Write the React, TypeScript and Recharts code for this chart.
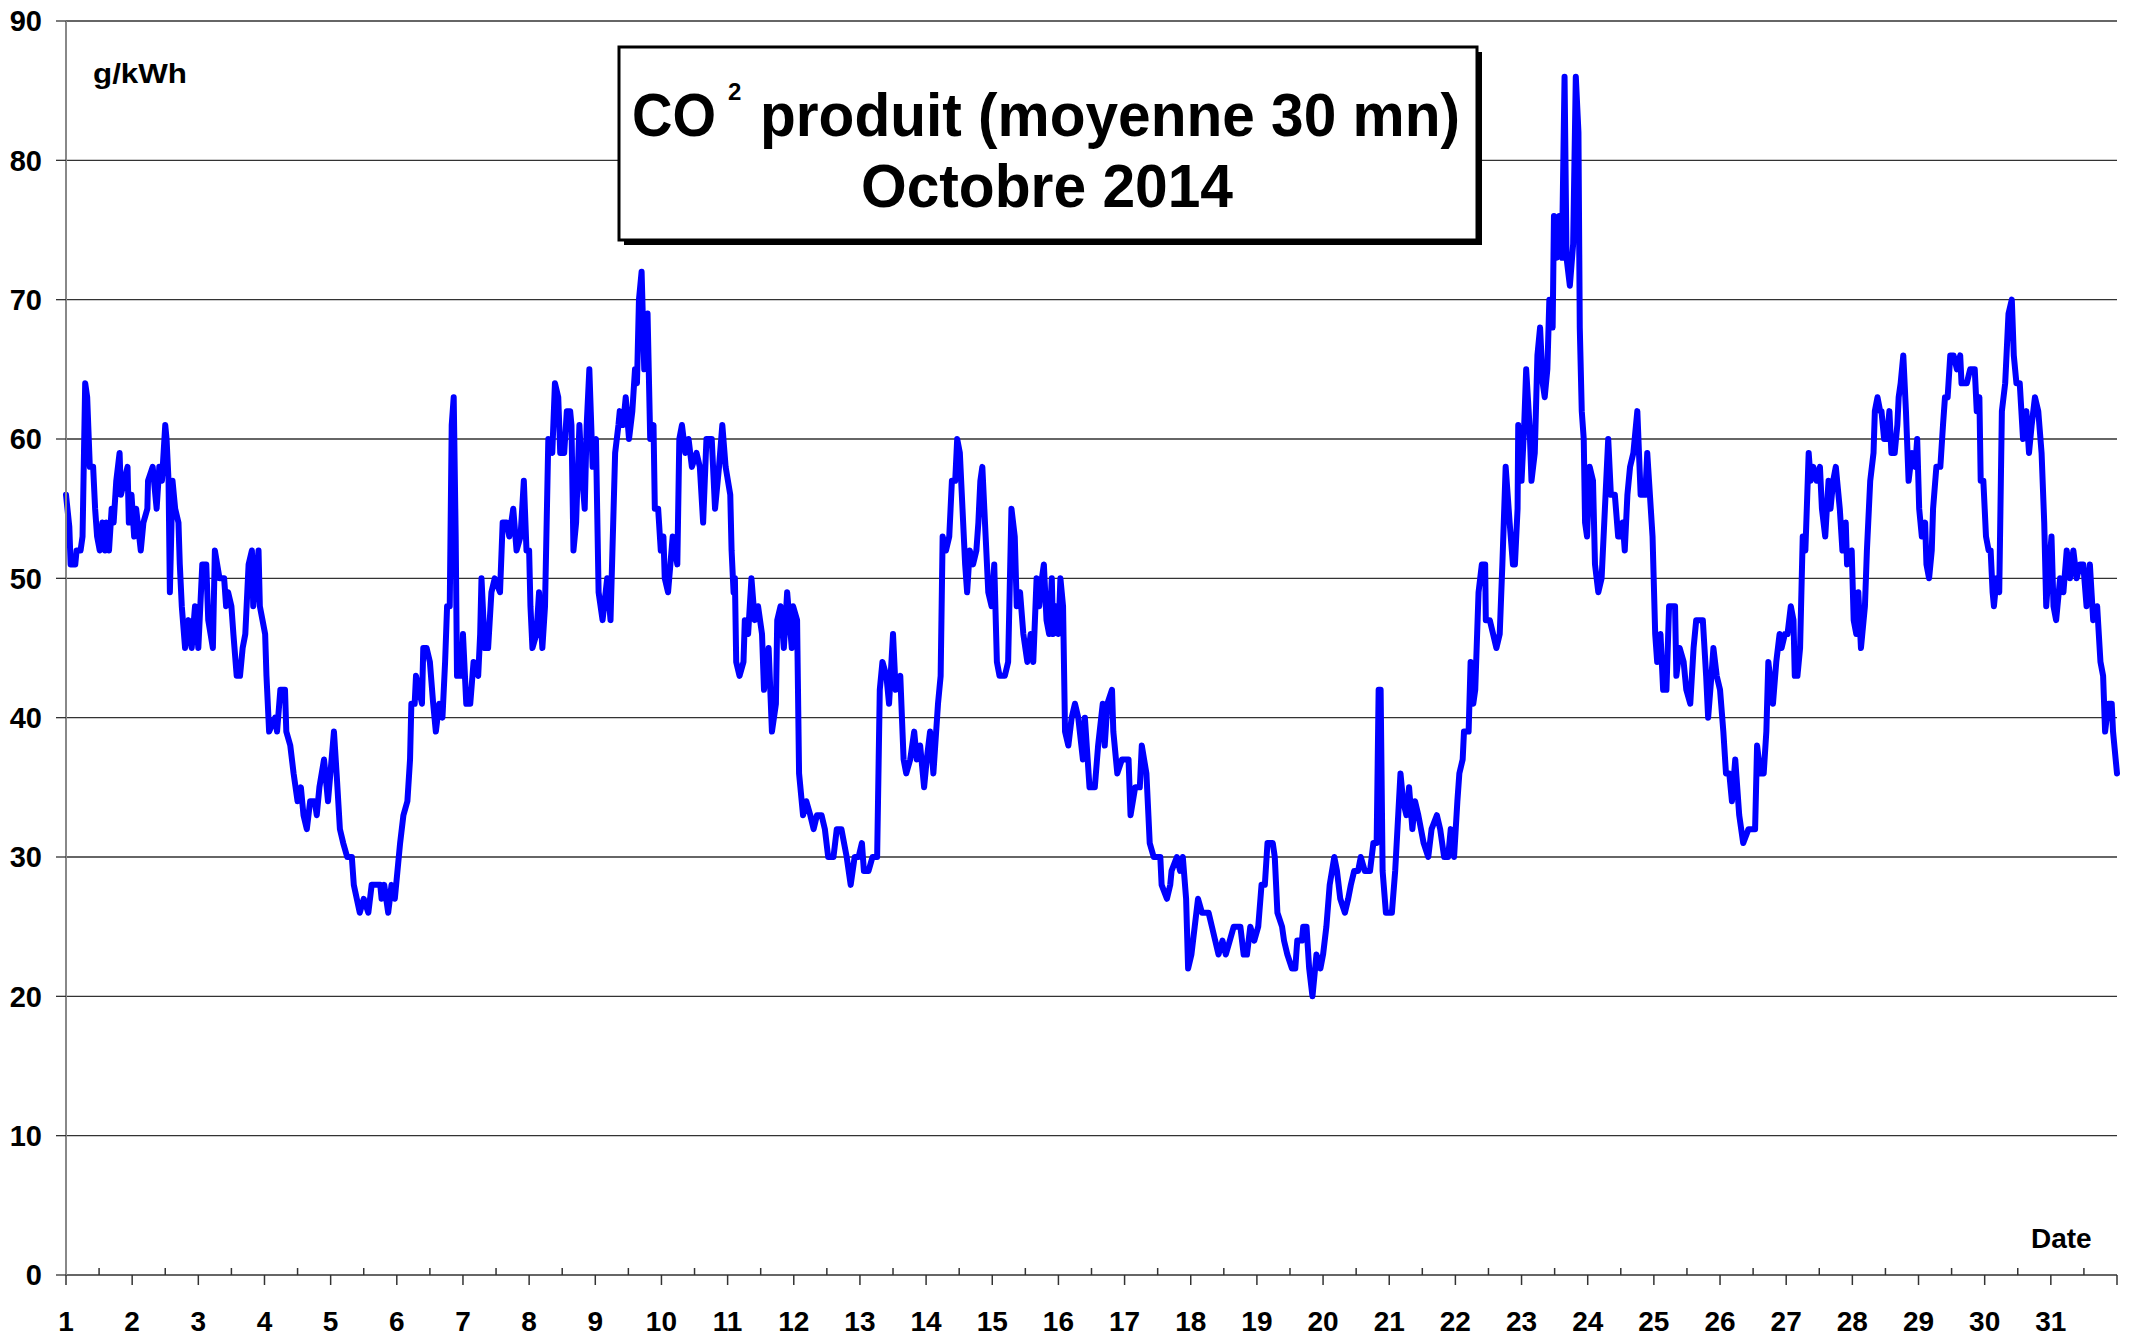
import { LineChart, Line, XAxis, YAxis, CartesianGrid } from "recharts"

// [day of month (fractional), g/kWh], segment by segment
const days1to6: [number, number][] = [
  [1.0, 56], [1.05, 53.7], [1.07, 51], [1.14, 51], [1.16, 52], [1.22, 52], [1.25, 53], [1.29, 64], [1.32, 63],
  [1.36, 58], [1.41, 58], [1.44, 55], [1.47, 53], [1.51, 52], [1.55, 54], [1.59, 52], [1.61, 54], [1.65, 52],
  [1.69, 55], [1.72, 54], [1.76, 57], [1.81, 59], [1.83, 56], [1.88, 57], [1.93, 58], [1.95, 54], [1.99, 56],
  [2.03, 53], [2.06, 55], [2.13, 52], [2.17, 54], [2.23, 55], [2.24, 57], [2.31, 58], [2.37, 55], [2.41, 58],
  [2.45, 57], [2.5, 61], [2.52, 60], [2.55, 57], [2.57, 49], [2.61, 57], [2.65, 55], [2.7, 54], [2.72, 51],
  [2.75, 48], [2.8, 45], [2.85, 47], [2.9, 45], [2.95, 48], [3.0, 45], [3.06, 51], [3.12, 51], [3.15, 47],
  [3.22, 45], [3.25, 52], [3.32, 50], [3.39, 50], [3.42, 48], [3.45, 49], [3.5, 48], [3.53, 46], [3.58, 43],
  [3.63, 43], [3.67, 45], [3.71, 46], [3.76, 51], [3.81, 52], [3.83, 48], [3.91, 52], [3.93, 48], [3.97, 47],
  [4.01, 46], [4.03, 43], [4.07, 39], [4.16, 40], [4.19, 39], [4.24, 42], [4.31, 42], [4.33, 39], [4.39, 38],
  [4.44, 36], [4.5, 34], [4.55, 35], [4.59, 33], [4.64, 32], [4.69, 34], [4.76, 34], [4.79, 33], [4.83, 35],
  [4.9, 37], [4.96, 34], [5.05, 39], [5.09, 36], [5.14, 32], [5.19, 31], [5.25, 30], [5.32, 30], [5.35, 28],
  [5.44, 26], [5.5, 27], [5.57, 26], [5.62, 28], [5.75, 28], [5.77, 27], [5.81, 28], [5.87, 26], [5.92, 28],
  [5.97, 27], [6.05, 31],
]

const days6to11: [number, number][] = [
  [6.1, 33], [6.16, 34], [6.2, 37], [6.22, 41], [6.27, 41], [6.29, 43], [6.38, 41], [6.4, 45], [6.45, 45],
  [6.5, 44], [6.55, 41], [6.59, 39], [6.64, 41], [6.69, 40], [6.73, 44], [6.76, 48], [6.8, 48], [6.83, 61],
  [6.86, 63], [6.89, 53], [6.91, 43], [6.98, 43], [7.0, 46], [7.05, 41], [7.11, 41], [7.16, 44], [7.23, 43],
  [7.26, 46], [7.28, 50], [7.33, 45], [7.38, 45], [7.43, 49], [7.48, 50], [7.56, 49], [7.6, 54], [7.66, 54],
  [7.7, 53], [7.76, 55], [7.81, 52], [7.87, 53], [7.92, 57], [7.96, 52], [8.0, 52], [8.02, 48], [8.05, 45],
  [8.11, 46], [8.15, 49], [8.2, 45], [8.24, 48], [8.29, 60], [8.35, 59], [8.39, 64], [8.44, 63], [8.47, 59],
  [8.53, 59], [8.57, 62], [8.62, 62], [8.64, 61], [8.67, 52], [8.71, 54], [8.76, 61], [8.79, 58], [8.84, 55],
  [8.87, 61], [8.91, 65], [8.96, 58], [9.01, 60], [9.05, 49], [9.11, 47], [9.18, 50], [9.23, 47], [9.3, 59],
  [9.35, 61], [9.37, 62], [9.42, 61], [9.46, 63], [9.51, 60], [9.56, 62], [9.6, 65], [9.63, 64], [9.66, 70],
  [9.7, 72], [9.74, 65], [9.79, 69], [9.83, 60], [9.88, 61], [9.9, 55], [9.95, 55], [9.99, 52], [10.03, 53],
  [10.05, 50], [10.1, 49], [10.17, 53], [10.24, 51], [10.27, 60], [10.31, 61], [10.36, 59], [10.41, 60],
  [10.46, 58], [10.53, 59], [10.58, 58], [10.63, 54], [10.68, 60], [10.76, 60], [10.81, 55], [10.87, 58],
  [10.92, 61], [10.97, 58], [11.04, 56], [11.06, 52], [11.09, 49], [11.11, 50], [11.13, 44], [11.18, 43],
]

const days11to16: [number, number][] = [
  [11.24, 44], [11.26, 47], [11.31, 46], [11.36, 50], [11.41, 47], [11.46, 48], [11.52, 46], [11.55, 42],
  [11.62, 45], [11.67, 39], [11.73, 41], [11.75, 47], [11.8, 48], [11.85, 45], [11.9, 49], [11.97, 45],
  [11.99, 48], [12.05, 47], [12.08, 36], [12.14, 33], [12.19, 34], [12.25, 33], [12.3, 32], [12.35, 33],
  [12.42, 33], [12.47, 32], [12.52, 30], [12.6, 30], [12.65, 32], [12.72, 32], [12.8, 30], [12.86, 28],
  [12.92, 30], [12.98, 30], [13.03, 31], [13.06, 29], [13.13, 29], [13.19, 30], [13.26, 30], [13.3, 42],
  [13.34, 44], [13.4, 43], [13.44, 41], [13.5, 46], [13.54, 42], [13.61, 43], [13.66, 37], [13.7, 36],
  [13.76, 37], [13.82, 39], [13.86, 37], [13.91, 38], [13.97, 35], [14.01, 37], [14.06, 39], [14.11, 36],
  [14.18, 41], [14.22, 43], [14.25, 53], [14.3, 52], [14.35, 53], [14.39, 57], [14.44, 57], [14.47, 60],
  [14.51, 59], [14.55, 55], [14.59, 51], [14.62, 49], [14.66, 52], [14.71, 51], [14.76, 52], [14.79, 54],
  [14.82, 57], [14.85, 58], [14.9, 53], [14.94, 49], [14.99, 48], [15.03, 51], [15.07, 44], [15.11, 43],
  [15.19, 43], [15.24, 44], [15.29, 55], [15.34, 53], [15.37, 48], [15.42, 49], [15.47, 46], [15.53, 44],
  [15.58, 46], [15.62, 44], [15.67, 50], [15.71, 48], [15.75, 50], [15.78, 51], [15.82, 47], [15.86, 46],
  [15.9, 50], [15.92, 46], [15.96, 48], [16.0, 46], [16.03, 50], [16.07, 48], [16.1, 39], [16.15, 38],
  [16.2, 40], [16.25, 41], [16.3, 40],
]

const days16to21: [number, number][] = [
  [16.37, 37], [16.4, 40], [16.47, 35], [16.55, 35], [16.6, 38], [16.67, 41], [16.7, 38], [16.74, 41],
  [16.81, 42], [16.83, 39], [16.89, 36], [16.96, 37], [17.06, 37], [17.09, 33], [17.16, 35], [17.23, 35],
  [17.26, 38], [17.33, 36], [17.36, 33], [17.38, 31], [17.44, 30], [17.54, 30], [17.56, 28], [17.64, 27],
  [17.69, 28], [17.71, 29], [17.79, 30], [17.84, 29], [17.88, 30], [17.93, 27], [17.96, 22], [18.01, 23],
  [18.06, 25], [18.11, 27], [18.17, 26], [18.27, 26], [18.32, 25], [18.37, 24], [18.42, 23], [18.48, 24],
  [18.53, 23], [18.59, 24], [18.65, 25], [18.75, 25], [18.8, 23], [18.85, 23], [18.9, 25], [18.96, 24],
  [19.02, 25], [19.07, 28], [19.12, 28], [19.16, 31], [19.24, 31], [19.27, 30], [19.31, 26], [19.38, 25],
  [19.41, 24], [19.46, 23], [19.53, 22], [19.58, 22], [19.61, 24], [19.68, 24], [19.7, 25], [19.75, 25],
  [19.79, 22], [19.84, 20], [19.9, 23], [19.96, 22], [20.0, 23], [20.05, 25], [20.1, 28], [20.17, 30],
  [20.21, 29], [20.26, 27], [20.33, 26], [20.38, 27], [20.42, 28], [20.47, 29], [20.53, 29], [20.57, 30],
  [20.63, 29], [20.71, 29], [20.76, 31], [20.81, 31], [20.84, 42], [20.87, 42], [20.9, 29], [20.95, 26],
  [21.04, 26], [21.09, 29], [21.17, 36], [21.21, 34], [21.26, 33], [21.3, 35], [21.35, 32], [21.39, 34],
  [21.44, 33],
]

const days21to26: [number, number][] = [
  [21.52, 31], [21.59, 30], [21.64, 32], [21.72, 33], [21.77, 32], [21.83, 30], [21.89, 30], [21.93, 32],
  [21.98, 30], [22.03, 34], [22.06, 36], [22.11, 37], [22.13, 39], [22.2, 39], [22.23, 44], [22.27, 41],
  [22.3, 42], [22.35, 49], [22.4, 51], [22.45, 51], [22.46, 47], [22.52, 47], [22.57, 46], [22.62, 45],
  [22.67, 46], [22.71, 51], [22.76, 58], [22.82, 54], [22.87, 51], [22.9, 51], [22.94, 55], [22.95, 61],
  [23.0, 57], [23.04, 61], [23.07, 65], [23.12, 61], [23.15, 57], [23.2, 59], [23.24, 66], [23.28, 68],
  [23.32, 64], [23.35, 63], [23.39, 65], [23.42, 70], [23.47, 68], [23.49, 76], [23.53, 73], [23.57, 76],
  [23.61, 73], [23.65, 86], [23.68, 73], [23.73, 71], [23.78, 74], [23.82, 86], [23.86, 82], [23.88, 68],
  [23.91, 62], [23.94, 60], [23.96, 54], [23.99, 53], [24.03, 58], [24.08, 57], [24.11, 51], [24.16, 49],
  [24.21, 50], [24.25, 54], [24.31, 60], [24.35, 56], [24.41, 56], [24.46, 53], [24.51, 53], [24.53, 54],
  [24.56, 52], [24.6, 56], [24.64, 58], [24.69, 59], [24.75, 62], [24.8, 56], [24.87, 56], [24.9, 59],
  [24.94, 56], [24.98, 53], [25.02, 46], [25.05, 44], [25.1, 46], [25.14, 42], [25.19, 42], [25.23, 48],
  [25.32, 48], [25.34, 43], [25.39, 45], [25.45, 44], [25.49, 42], [25.55, 41], [25.6, 45], [25.64, 47],
  [25.74, 47], [25.79, 43], [25.82, 40], [25.87, 43], [25.9, 45], [25.95, 43], [26.0, 42], [26.05, 39],
  [26.09, 36], [26.14, 36], [26.18, 34], [26.23, 37], [26.29, 33], [26.35, 31], [26.43, 32], [26.53, 32],
  [26.56, 38],
]

const days26to31: [number, number][] = [
  [26.61, 36], [26.66, 36], [26.7, 39], [26.73, 44], [26.8, 41], [26.85, 44], [26.9, 46], [26.93, 45],
  [26.98, 46], [27.02, 46], [27.07, 48], [27.11, 47], [27.13, 43], [27.17, 43], [27.21, 45], [27.25, 53],
  [27.29, 52], [27.34, 59], [27.37, 57], [27.41, 58], [27.46, 57], [27.51, 58], [27.54, 55], [27.59, 53],
  [27.64, 57], [27.67, 55], [27.71, 57], [27.75, 58], [27.81, 55], [27.85, 52], [27.9, 54], [27.92, 51],
  [27.99, 52], [28.02, 47], [28.06, 46], [28.09, 49], [28.13, 45], [28.19, 48], [28.22, 52], [28.27, 57],
  [28.32, 59], [28.34, 62], [28.38, 63], [28.42, 62], [28.44, 62], [28.48, 60], [28.52, 60], [28.56, 62],
  [28.59, 59], [28.64, 59], [28.68, 61], [28.7, 63], [28.73, 64], [28.77, 66], [28.81, 62], [28.85, 57],
  [28.9, 59], [28.95, 58], [28.98, 60], [29.01, 55], [29.05, 53], [29.1, 54], [29.12, 51], [29.16, 50],
  [29.2, 52], [29.22, 55], [29.27, 58], [29.33, 58], [29.37, 61], [29.4, 63], [29.44, 63], [29.48, 66],
  [29.53, 66], [29.58, 65], [29.63, 66], [29.65, 64], [29.73, 64], [29.78, 65], [29.85, 65], [29.88, 62],
  [29.92, 63], [29.94, 57], [29.98, 57], [30.02, 53], [30.06, 52], [30.09, 52], [30.12, 49], [30.14, 48],
  [30.18, 50], [30.22, 49], [30.26, 62], [30.31, 64], [30.36, 69], [30.41, 70], [30.44, 66], [30.48, 64],
  [30.53, 64], [30.58, 60], [30.63, 62], [30.67, 59], [30.71, 61], [30.76, 63], [30.81, 62], [30.86, 59],
  [30.9, 54], [30.93, 48], [30.96, 50], [31.01, 53], [31.04, 48], [31.08, 47], [31.14, 50], [31.19, 49],
  [31.24, 52], [31.29, 50], [31.34, 52], [31.39, 50], [31.44, 51], [31.49, 51], [31.54, 48], [31.59, 51],
  [31.64, 47], [31.7, 48], [31.75, 44], [31.79, 43], [31.82, 39], [31.87, 41], [31.92, 41], [31.94, 39],
  [32.0, 36],
]

const yTicks = [0, 10, 20, 30, 40, 50, 60, 70, 80, 90]
// whole days get a label and a downward tick, half days a small upward tick
const dayTicks = Array.from({ length: 63 }, (_, i) => 1 + i / 2)

const data = [...days1to6, ...days6to11, ...days11to16, ...days16to21, ...days21to26, ...days26to31].map(
  ([d, v]) => ({ d, v })
)

function DayTick(props: any) {
  const { x, y, payload } = props
  const d = payload.value as number
  const major = Number.isInteger(d)
  return (
    <g>
      <line x1={x} x2={x} y1={y} y2={major ? y + 10 : y - 7} stroke="#333" strokeWidth={1.5} />
      {major && d < 32 && (
        <text x={x} y={y + 56} textAnchor="middle" fontSize={28} fontWeight="bold" fill="#000">
          {d}
        </text>
      )}
    </g>
  )
}

export default function App() {
  return (
    <div
      style={{
        position: "absolute",
        left: 0,
        top: 0,
        width: 2134,
        height: 1337,
        background: "#fff",
        fontFamily: "'Liberation Sans', Arial, sans-serif",
      }}
    >
      <LineChart width={2134} height={1337} data={data} margin={{ top: 21, right: 17, left: 0, bottom: 0 }}>
        <CartesianGrid vertical={false} stroke="#333" strokeWidth={1.3} />
        <XAxis
          dataKey="d"
          type="number"
          domain={[1, 32]}
          ticks={dayTicks}
          interval={0}
          height={62}
          tickSize={0}
          tickMargin={0}
          tickLine={false}
          axisLine={{ stroke: "#666", strokeWidth: 2 }}
          tick={(p: any) => <DayTick {...p} />}
        />
        <YAxis
          domain={[0, 90]}
          ticks={yTicks}
          interval={0}
          width={66}
          tickSize={10}
          tickMargin={14}
          tickLine={{ stroke: "#333", strokeWidth: 1.3 }}
          axisLine={{ stroke: "#888", strokeWidth: 2 }}
          tick={{ fill: "#000", fontSize: 29, fontWeight: "bold" }}
        />
        <Line
          dataKey="v"
          type="linear"
          stroke="#0000ff"
          strokeWidth={6}
          strokeLinejoin="round"
          strokeLinecap="round"
          dot={false}
          isAnimationActive={false}
        />
      </LineChart>
      <svg
        width={2134}
        height={1337}
        style={{ position: "absolute", left: 0, top: 0, pointerEvents: "none" }}
        fontFamily="'Liberation Sans', Arial, sans-serif"
        fontWeight="bold"
      >
        <text x={93} y={83} fontSize={28} textLength={94} lengthAdjust="spacingAndGlyphs">
          g/kWh
        </text>
        <text x={2031} y={1248} fontSize={28}>
          Date
        </text>
        <rect x={624} y={52} width={858} height={193} fill="#000" />
        <rect x={619} y={47} width={858} height={193} fill="#fff" stroke="#000" strokeWidth={3} />
        <text x={632} y={136} fontSize={62} textLength={84} lengthAdjust="spacingAndGlyphs">
          CO
        </text>
        <text x={728} y={100} fontSize={24}>
          2
        </text>
        <text x={760} y={136} fontSize={62} textLength={700} lengthAdjust="spacingAndGlyphs">
          produit (moyenne 30 mn)
        </text>
        <text x={861} y={207} fontSize={62} textLength={372} lengthAdjust="spacingAndGlyphs">
          Octobre 2014
        </text>
      </svg>
    </div>
  )
}
